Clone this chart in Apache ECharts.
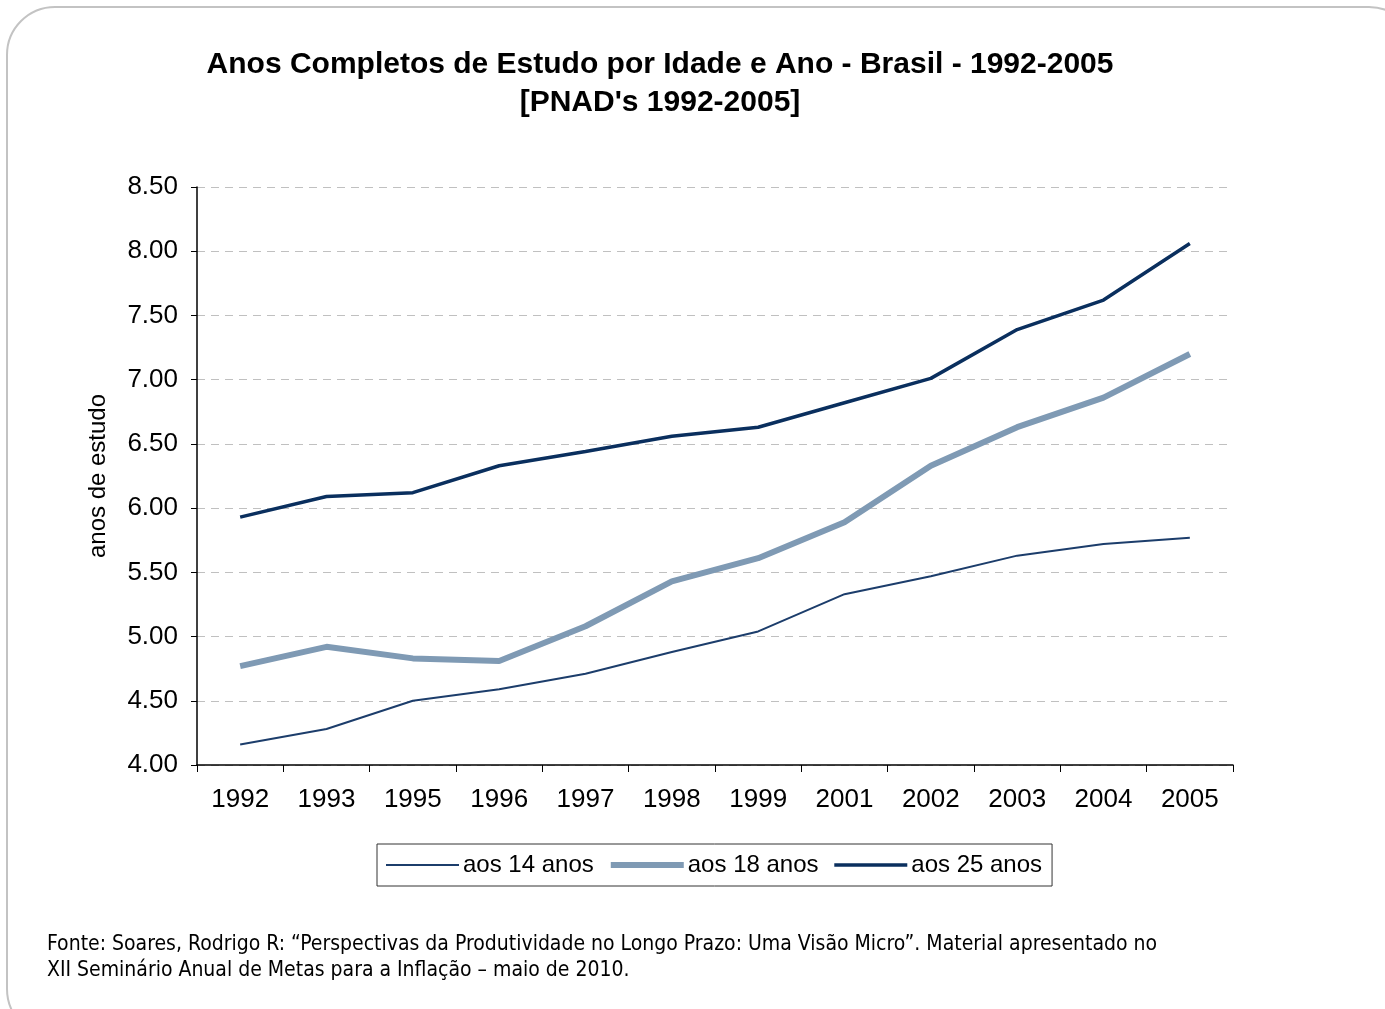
<!DOCTYPE html>
<html><head><meta charset="utf-8">
<script src="https://cdn.jsdelivr.net/npm/echarts@6/dist/echarts.min.js"></script>
<style>html,body{margin:0;padding:0;background:#fff}#c{width:1385px;height:1009px}</style>
</head><body><div id="c"></div>
<script>
const years = ['1992','1993','1995','1996','1997','1998','1999','2001','2002','2003','2004','2005'];
const aos14 = [4.16,4.28,4.50,4.59,4.71,4.88,5.04,5.33,5.47,5.63,5.72,5.77];
const aos18 = [4.77,4.92,4.83,4.81,5.08,5.43,5.61,5.89,6.33,6.63,6.86,7.20];
const aos25 = [5.93,6.09,6.12,6.33,6.44,6.56,6.63,6.82,7.01,7.39,7.62,8.06];
const seriesNames = ['aos 14 anos','aos 18 anos','aos 25 anos'];
const colors = ['#1c3d6b', '#7f9ab4', '#0a2f5e'];
const widths = [2, 6, 3.5];

const chart = echarts.init(document.getElementById('c'));
const font = 'Liberation Sans, Arial, sans-serif';
const mk = (i, data) => ({
  name: seriesNames[i], type: 'line', data, symbol: 'none', smooth: false,
  lineStyle: { color: colors[i], width: widths[i] }, itemStyle: { color: colors[i] }
});
chart.setOption({
  backgroundColor: '#fff',
  animation: false,
  graphic: [{
    type: 'rect', shape: { x: 7, y: 7, width: 1410, height: 1030, r: 48 },
    style: { fill: 'none', stroke: '#c3c3c3', lineWidth: 2 }, z: -1
  }, {
    type: 'text', left: 47, top: 932,
    style: { text: 'Fonte: Soares, Rodrigo R: “Perspectivas da Produtividade no Longo Prazo: Uma Visão Micro”. Material apresentado no\nXII Seminário Anual de Metas para a Inflação – maio de 2010.',
      font: '21px "DejaVu Sans Condensed", "DejaVu Sans", sans-serif', fill: '#000', lineHeight: 26 }
  }],
  title: {
    text: "Anos Completos de Estudo por Idade e Ano - Brasil - 1992-2005\n[PNAD's 1992-2005]",
    left: 655, top: 41, textAlign: 'center',
    textStyle: { fontFamily: font, fontWeight: 'bold', fontSize: 30, color: '#000', lineHeight: 38 }
  },
  legend: {
    data: seriesNames.map((n, i) => ({ name: n, lineStyle: { width: widths[i], color: colors[i] } })),
    left: 377, top: 844,
    itemWidth: 73, itemHeight: 14, itemGap: 14,
    padding: [9, 10, 9, 8],
    borderColor: '#333', borderWidth: 1, borderRadius: 0,
    itemStyle: { opacity: 0 },
    textStyle: { fontFamily: font, fontSize: 24, color: '#000', padding: [0, 0, 0, -1] }
  },
  grid: { left: 197, right: 152, top: 187, bottom: 244, containLabel: false },
  xAxis: {
    type: 'category', data: years, boundaryGap: true,
    axisLine: { lineStyle: { color: '#000', width: 1.5 } },
    axisTick: { show: true, length: 7, lineStyle: { color: '#000' } },
    axisLabel: { fontFamily: font, fontSize: 26, color: '#000', margin: 22 }
  },
  yAxis: {
    type: 'value', min: 4, max: 8.5, interval: 0.5,
    name: 'anos de estudo', nameLocation: 'middle', nameGap: 87, nameRotate: 90,
    nameTextStyle: { fontFamily: font, fontSize: 24, color: '#000' },
    axisLine: { show: true, lineStyle: { color: '#000', width: 1.5 } },
    axisTick: { show: true, length: 6, lineStyle: { color: '#000' } },
    axisLabel: { fontFamily: font, fontSize: 26, color: '#000', margin: 19, formatter: v => v.toFixed(2) },
    splitLine: { lineStyle: { color: '#c0c0c0', type: [8, 6], width: 1.2 } }
  },
  series: [mk(0, aos14), mk(1, aos18), mk(2, aos25)]
});
</script></body></html>
